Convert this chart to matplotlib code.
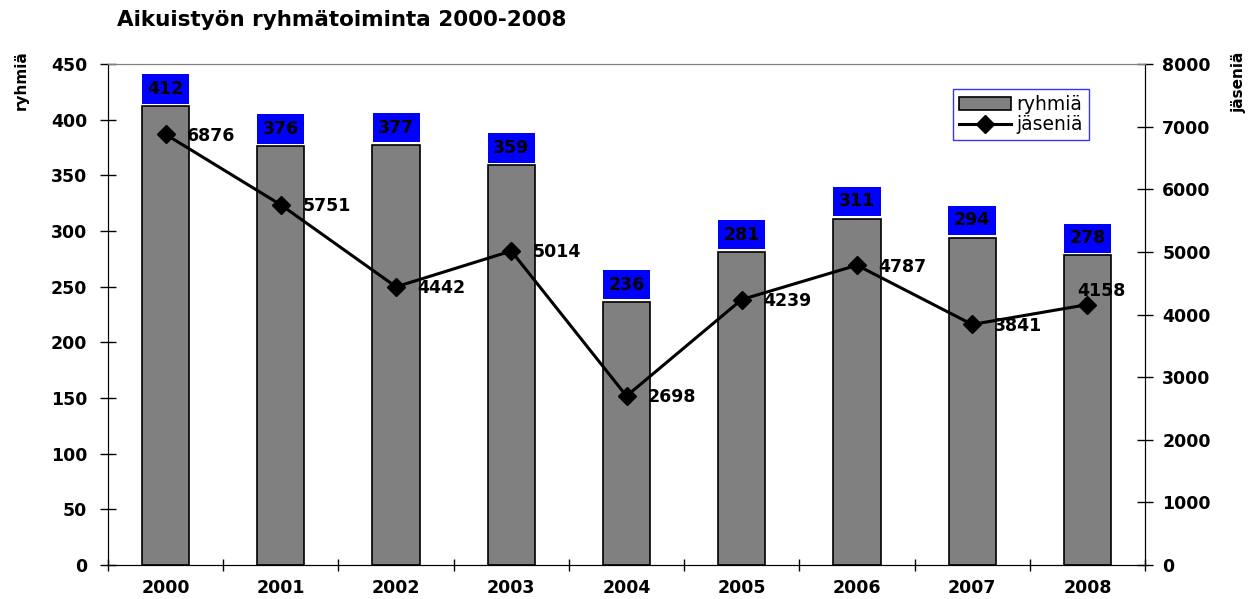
import matplotlib
matplotlib.use("Agg")
import matplotlib.pyplot as plt
import numpy as np

years = ["2000", "2001", "2002", "2003", "2004", "2005", "2006", "2007", "2008"]
ryhmia = [412, 376, 377, 359, 236, 281, 311, 294, 278]
jasenia = [6876, 5751, 4442, 5014, 2698, 4239, 4787, 3841, 4158]

plt.rcParams['font.family'] = ['DejaVu Sans']

fig = plt.figure(figsize=(12.55, 5.99), dpi=100)
ax = fig.add_axes([108/1255, 1-565/599, (1145-108)/1255, (565-64)/599])
ax2 = ax.twinx()

FS = 12.5
x = np.arange(len(years))
bars = ax.bar(x, ryhmia, width=0.41, color='#808080', edgecolor='black', linewidth=1.2, label='ryhmiä', zorder=2)
ax.set_xlim(-0.5, len(years) - 0.5)
ax.set_ylim(0, 450)
ax.set_yticks(np.arange(0, 451, 50))
ax.set_xticks(x)
ax.set_xticklabels(years, fontsize=FS, fontweight='bold')
ax.set_xticks(np.arange(-0.5, len(years), 1), minor=True)
ax.tick_params(axis='x', which='major', length=0, pad=10)
ax.tick_params(axis='x', which='minor', direction='inout', length=8, width=1)
ax.tick_params(axis='y', direction='inout', length=12, width=1, labelsize=FS, pad=9)
for lab in ax.get_yticklabels():
    lab.set_fontweight('bold')

for xi, v in zip(x, ryhmia):
    ax.annotate(str(v), (xi, v), xytext=(0, 12.5), textcoords='offset points',
                ha='center', va='center', fontsize=FS, fontweight='bold',
                bbox=dict(boxstyle='square,pad=0.32', fc='#0000ff', ec='none'), zorder=5)

line, = ax2.plot(x, jasenia, color='black', lw=2.2, marker='D', markersize=9, label='jäseniä', zorder=4)
ax2.set_ylim(0, 8000)
ax2.set_yticks(np.arange(0, 8001, 1000))
ax2.tick_params(axis='y', direction='inout', length=12, width=1, labelsize=FS, pad=6.5)
for lab in ax2.get_yticklabels():
    lab.set_fontweight('bold')

for i, (xi, v) in enumerate(zip(x, jasenia)):
    if i == len(x) - 1:
        off, ha = (-7, 10), 'left'
    else:
        off, ha = (15.5, -1), 'left'
    ax2.annotate(str(v), (xi, v), xytext=off, textcoords='offset points',
                 ha=ha, va='center', fontsize=FS, fontweight='bold', zorder=6)

for a in (ax, ax2):
    a.spines['top'].set_color('#808080')
    a.spines['left'].set_color('black')
    a.spines['right'].set_color('black')
    a.spines['bottom'].set_color('black')

fig.text(117/1255, 1-20/599, "Aikuistyön ryhmätoiminta 2000-2008", fontsize=15.5, fontweight='bold', ha='left', va='center')
fig.text(21/1255, 1-80/599, "ryhmiä", rotation=90, fontsize=11, fontweight='bold', ha='center', va='center')
fig.text(1239/1255, 1-82/599, "jäseniä", rotation=90, fontsize=11, fontweight='bold', ha='center', va='center')

leg = ax2.legend([bars, line], ['ryhmiä', 'jäseniä'], loc='upper left',
                 bbox_to_anchor=((953-108)/(1145-108), 1-(89-64)/(565-64)),
                 fontsize=13.5, frameon=True, fancybox=False, borderpad=0.3,
                 handlelength=2.8, handletextpad=0.3, labelspacing=0.1, borderaxespad=0)
leg.get_frame().set_edgecolor('#0000ff')
leg.get_frame().set_linewidth(1)

fig.savefig("out.png", dpi=100)
